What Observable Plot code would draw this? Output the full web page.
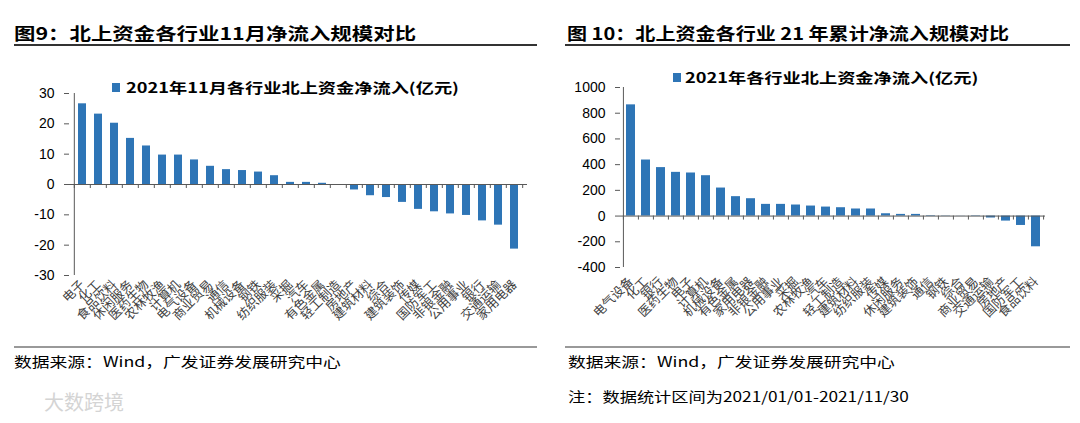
<!DOCTYPE html>
<html><head><meta charset="utf-8">
<script src="https://cdn.jsdelivr.net/npm/d3@7"></script>
<script src="https://cdn.jsdelivr.net/npm/@observablehq/plot@0.6"></script>
<style>
body{margin:0;background:#fff;width:1080px;height:423px;position:relative;overflow:hidden;font-family:"Noto Sans CJK SC",sans-serif}
.abs{position:absolute;white-space:nowrap;line-height:1}
.title{font-weight:bold;font-size:17px;color:#000;transform-origin:0 50%}
.legend{font-weight:bold;font-size:14px;color:#000;transform-origin:0 50%;transform:scaleX(1.3)}
.src{font-size:14px;color:#000;transform-origin:0 50%;transform:scaleX(1.27)}
.sq{position:absolute;width:8px;height:9px;background:#2e75b6}
.hl{position:absolute;height:2px}
</style></head><body>
<div class="abs title" style="left:14px;top:24px;transform:scaleX(1.26)">图9：北上资金各行业11月净流入规模对比</div>
<div class="abs title" style="left:567px;top:24px;transform:scaleX(1.18)">图 10：北上资金各行业 21 年累计净流入规模对比</div>
<div class="hl" style="left:14px;top:44px;width:523px;background:#333"></div>
<div class="hl" style="left:565px;top:44px;width:505px;background:#333"></div>
<div class="hl" style="left:14px;top:346px;width:523px;background:#999"></div>
<div class="hl" style="left:565px;top:346px;width:505px;background:#999"></div>
<div class="abs src" style="left:14px;top:354px">数据来源：Wind，广发证券发展研究中心</div>
<div class="abs src" style="left:568px;top:354px">数据来源：Wind，广发证券发展研究中心</div>
<div class="abs src" style="left:568px;top:389px;transform:scaleX(1.23)">注：数据统计区间为2021/01/01-2021/11/30</div>
<div class="abs" style="left:44px;top:392px;font-size:20px;color:#d4d4d4">大数跨境</div>
<div id="c1" style="position:absolute;left:0;top:50px"></div>
<div id="c2" style="position:absolute;left:540px;top:50px"></div>
<div class="sq" style="left:112px;top:83px"></div>
<div class="abs legend" style="left:126px;top:80px">2021年11月各行业北上资金净流入(亿元)</div>
<div class="sq" style="left:673px;top:73px"></div>
<div class="abs legend" style="left:685px;top:70px">2021年各行业北上资金净流入(亿元)</div>
<script>
const novCategories = ["电子","化工","食品饮料","休闲服务","医药生物","农林牧渔","计算机","电气设备","商业贸易","通信","机械设备","钢铁","纺织服装","采掘","汽车","有色金属","轻工制造","房地产","建筑材料","综合","建筑装饰","传媒","国防军工","非银金融","公用事业","银行","交通运输","家用电器"];
const novValues = [26.6,23.2,20.2,15.2,12.7,9.7,9.7,8.1,6.0,4.9,4.6,4.1,2.9,0.7,0.7,0.4,-0.1,-1.8,-3.7,-4.3,-5.9,-8.2,-9.0,-9.7,-10.2,-12.0,-13.4,-21.3];
const novTicks = [30,20,10,0,-10,-20,-30];

const ytdCategories = ["电气设备","化工","银行","医药生物","电子","计算机","机械设备","有色金属","家用电器","非银金融","公用事业","采掘","农林牧渔","汽车","轻工制造","建筑材料","纺织服装","传媒","休闲服务","建筑装饰","通信","钢铁","综合","商业贸易","交通运输","房地产","国防军工","食品饮料"];
const ytdValues = [865,436,377,340,335,314,218,151,135,91,91,86,78,70,65,55,55,18,13,13,4,2,1,-3,-15,-39,-73,-239];
const ytdTicks = [1000,800,600,400,200,0,-200,-400];

const BLUE = "#2e75b6";
const AXIS = "#595959";

function chart(cats, vals, ticks, domain, ml, mr, mt, mb, pInner, labelPad) {
  const width = 540, height = 300;
  const data = cats.map((c, i) => ({c, v: vals[i]}));
  const step = (width - ml - mr) / cats.length;
  const last = cats[cats.length - 1];
  return Plot.plot({
    width, height, marginLeft: ml, marginRight: mr, marginTop: mt, marginBottom: mb,
    style: {fontFamily: "'Liberation Sans', Arial, sans-serif", background: "transparent", overflow: "visible", color: "#000"},
    x: {domain: cats, paddingInner: pInner, paddingOuter: pInner / 2, axis: null},
    y: {domain, axis: null},
    marks: [
      Plot.barY(data, {x: "c", y: "v", fill: BLUE}),
      Plot.ruleY([0], {stroke: AXIS, strokeWidth: 1}),
      Plot.ruleX(cats, {x: d => d, y1: 0, y2: 0, insetBottom: -4, dx: -step / 2, stroke: AXIS}),
      Plot.ruleX([last], {x: d => d, y1: 0, y2: 0, insetBottom: -4, dx: step / 2, stroke: AXIS}),
      Plot.ruleX([cats[0]], {x: d => d, dx: -step / 2, stroke: AXIS}),
      Plot.axisY({ticks, tickFormat: d => String(d), tickSize: 5, tickPadding: 10, fontSize: 14, stroke: AXIS, label: null}),
      Plot.axisX({tickRotate: -45, tickSize: 0, tickPadding: labelPad, fontSize: 12.5, fontFamily: "'Noto Sans CJK SC', sans-serif", fill: "#404040", label: null})
    ]
  });
}
document.getElementById("c1").append(chart(novCategories, novValues, novTicks, [-30, 30], 69, 13, 43, 75, 0.5, 7));
document.getElementById("c2").append(chart(ytdCategories, ytdValues, ytdTicks, [-400, 1000], 80, 35, 37, 83, 0.4, 12));
</script>
</body></html>
